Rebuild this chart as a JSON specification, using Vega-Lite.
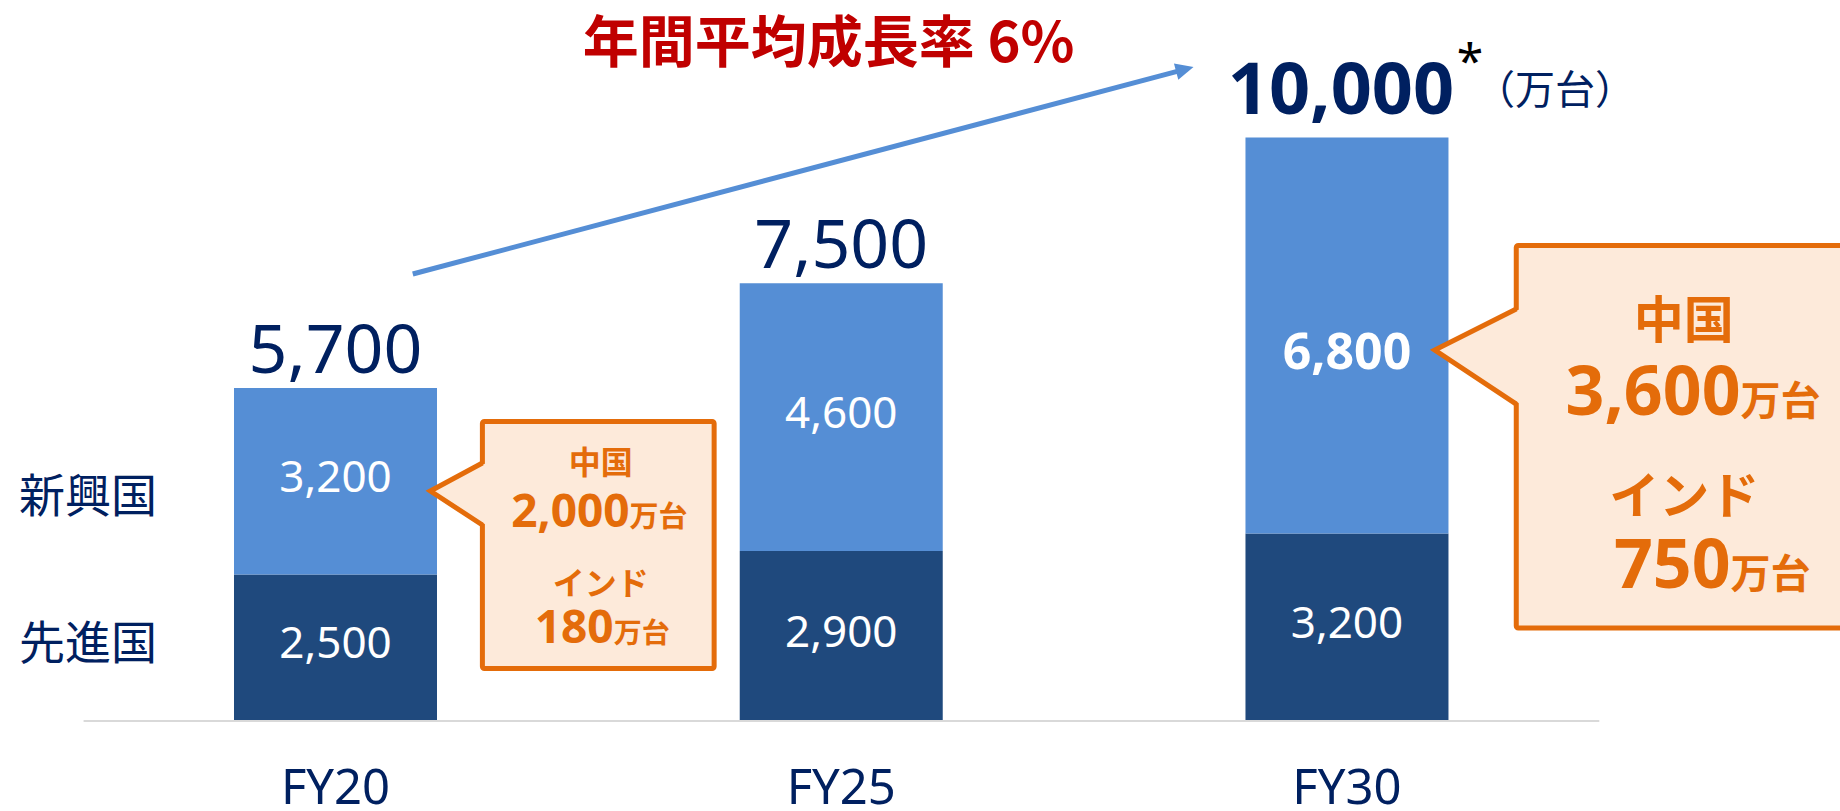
{
  "$schema": "https://vega.github.io/schema/vega-lite/v6.json",
  "width": 1840,
  "height": 811,
  "autosize": {"type": "none"},
  "padding": 0,
  "background": "white",
  "config": {"view": {"stroke": null}},
  "datasets": {
    "bars": [
      {"year": 20, "fy": "FY20", "region": "先進国", "rank": 1, "value": 2500},
      {"year": 20, "fy": "FY20", "region": "新興国", "rank": 2, "value": 3200},
      {"year": 25, "fy": "FY25", "region": "先進国", "rank": 1, "value": 2900},
      {"year": 25, "fy": "FY25", "region": "新興国", "rank": 2, "value": 4600},
      {"year": 30, "fy": "FY30", "region": "先進国", "rank": 1, "value": 3200},
      {"year": 30, "fy": "FY30", "region": "新興国", "rank": 2, "value": 6800}
    ],
    "totals": [
      {"year": 20, "fy": "FY20", "total": 5700},
      {"year": 25, "fy": "FY25", "total": 7500},
      {"year": 30, "fy": "FY30", "total": 10000}
    ],
    "one": [{}]
  },
  "layer": [
    {
      "data": {"name": "one"},
      "mark": {"type": "rule", "color": "#D9D9D9", "strokeWidth": 2},
      "encoding": {
        "x": {"datum": 17.5093, "type": "quantitative", "scale": {"domain": [16.7325, 34.8249], "nice": false, "zero": false}, "axis": null},
        "x2": {"datum": 32.4945},
        "y": {"datum": -15, "type": "quantitative", "scale": {"domain": [-1562, 12361], "nice": false, "zero": false}, "axis": null}
      }
    },
    {
      "data": {"name": "bars"},
      "mark": {"type": "bar", "width": 203},
      "encoding": {
        "x": {"field": "year", "type": "quantitative", "scale": {"domain": [16.7325, 34.8249], "nice": false, "zero": false}, "axis": null},
        "y": {"field": "value", "type": "quantitative", "stack": "zero", "scale": {"domain": [-1562, 12361], "nice": false, "zero": false}, "axis": null},
        "color": {"field": "region", "type": "nominal", "scale": {"domain": ["先進国", "新興国"], "range": ["#1F497D", "#558ED5"]}, "legend": null},
        "order": {"field": "rank", "type": "quantitative"}
      }
    },
    {
      "data": {"name": "bars"},
      "mark": {"type": "text", "font": "Noto Sans", "fontSize": 44, "color": "white", "align": "center", "baseline": "middle", "dy": -2},
      "encoding": {
        "x": {"field": "year", "type": "quantitative", "scale": {"domain": [16.7325, 34.8249], "nice": false, "zero": false}, "axis": null},
        "y": {"field": "value", "type": "quantitative", "stack": "zero", "bandPosition": 0.5, "scale": {"domain": [-1562, 12361], "nice": false, "zero": false}, "axis": null},
        "detail": {"field": "region", "type": "nominal"},
        "order": {"field": "rank", "type": "quantitative"},
        "text": {"field": "value", "type": "quantitative", "format": ","},
        "opacity": {"condition": {"test": "datum.year === 30 && datum.region === '新興国'", "value": 0}, "value": 1}
      }
    },
    {
      "data": {"name": "bars"},
      "mark": {"type": "text", "font": "Noto Sans", "fontSize": 50, "fontWeight": "bold", "color": "white", "align": "center", "baseline": "middle", "dy": 18},
      "encoding": {
        "x": {"field": "year", "type": "quantitative", "scale": {"domain": [16.7325, 34.8249], "nice": false, "zero": false}, "axis": null},
        "y": {"field": "value", "type": "quantitative", "stack": "zero", "bandPosition": 0.5, "scale": {"domain": [-1562, 12361], "nice": false, "zero": false}, "axis": null},
        "detail": {"field": "region", "type": "nominal"},
        "order": {"field": "rank", "type": "quantitative"},
        "text": {"field": "value", "type": "quantitative", "format": ","},
        "opacity": {"condition": {"test": "datum.year === 30 && datum.region === '新興国'", "value": 1}, "value": 0}
      }
    },
    {
      "data": {"name": "totals"},
      "transform": [{"filter": "datum.year < 30"}],
      "mark": {"type": "text", "font": "Noto Sans", "fontSize": 68, "color": "#002060", "align": "center", "baseline": "alphabetic", "dy": -15},
      "encoding": {
        "x": {"field": "year", "type": "quantitative", "scale": {"domain": [16.7325, 34.8249], "nice": false, "zero": false}, "axis": null},
        "y": {"field": "total", "type": "quantitative", "scale": {"domain": [-1562, 12361], "nice": false, "zero": false}, "axis": null},
        "text": {"field": "total", "type": "quantitative", "format": ","}
      }
    },
    {
      "data": {"name": "totals"},
      "transform": [{"filter": "datum.year === 30"}],
      "mark": {"type": "text", "font": "Noto Sans", "fontSize": 72, "fontWeight": "bold", "color": "#002060", "align": "center", "baseline": "alphabetic", "dy": -24, "dx": -6},
      "encoding": {
        "x": {"field": "year", "type": "quantitative", "scale": {"domain": [16.7325, 34.8249], "nice": false, "zero": false}, "axis": null},
        "y": {"field": "total", "type": "quantitative", "scale": {"domain": [-1562, 12361], "nice": false, "zero": false}, "axis": null},
        "text": {"field": "total", "type": "quantitative", "format": ","}
      }
    },
    {
      "data": {"name": "totals"},
      "mark": {"type": "text", "font": "Noto Sans", "fontSize": 49, "color": "#002060", "align": "center", "baseline": "alphabetic"},
      "encoding": {
        "x": {"field": "year", "type": "quantitative", "scale": {"domain": [16.7325, 34.8249], "nice": false, "zero": false}, "axis": null},
        "y": {"datum": -1443, "type": "quantitative", "scale": {"domain": [-1562, 12361], "nice": false, "zero": false}, "axis": null},
        "text": {"field": "fy", "type": "nominal"}
      }
    },
    {
      "data": {"name": "one"},
      "mark": {"type": "text", "font": "Noto Sans CJK JP", "fontSize": 46, "color": "#002060", "align": "left", "baseline": "alphabetic", "text": "新興国"},
      "encoding": {
        "x": {"datum": 16.8702, "type": "quantitative", "scale": {"domain": [16.7325, 34.8249], "nice": false, "zero": false}, "axis": null},
        "y": {"datum": 3579, "type": "quantitative", "scale": {"domain": [-1562, 12361], "nice": false, "zero": false}, "axis": null}
      }
    },
    {
      "data": {"name": "one"},
      "mark": {"type": "text", "font": "Noto Sans CJK JP", "fontSize": 46, "color": "#002060", "align": "left", "baseline": "alphabetic", "text": "先進国"},
      "encoding": {
        "x": {"datum": 16.8702, "type": "quantitative", "scale": {"domain": [16.7325, 34.8249], "nice": false, "zero": false}, "axis": null},
        "y": {"datum": 1047, "type": "quantitative", "scale": {"domain": [-1562, 12361], "nice": false, "zero": false}, "axis": null}
      }
    },
    {
      "data": {"name": "one"},
      "mark": {"type": "text", "font": "Noto Sans CJK JP", "fontSize": 56, "fontWeight": "bold", "color": "#C00000", "align": "center", "baseline": "alphabetic", "text": "年間平均成長率 6%"},
      "encoding": {
        "x": {"datum": 24.8742, "type": "quantitative", "scale": {"domain": [16.7325, 34.8249], "nice": false, "zero": false}, "axis": null},
        "y": {"datum": 11296, "type": "quantitative", "scale": {"domain": [-1562, 12361], "nice": false, "zero": false}, "axis": null}
      }
    },
    {
      "data": {"name": "one"},
      "mark": {"type": "text", "font": "Noto Sans", "fontSize": 48, "color": "#000000", "align": "center", "baseline": "alphabetic", "text": "*"},
      "encoding": {
        "x": {"datum": 31.2163, "type": "quantitative", "scale": {"domain": [16.7325, 34.8249], "nice": false, "zero": false}, "axis": null},
        "y": {"datum": 11020, "type": "quantitative", "scale": {"domain": [-1562, 12361], "nice": false, "zero": false}, "axis": null}
      }
    },
    {
      "data": {"name": "one"},
      "mark": {"type": "text", "font": "Noto Sans CJK JP", "fontSize": 40, "color": "#002060", "align": "center", "baseline": "alphabetic", "text": "（万台）"},
      "encoding": {
        "x": {"datum": 32.0573, "type": "quantitative", "scale": {"domain": [16.7325, 34.8249], "nice": false, "zero": false}, "axis": null},
        "y": {"datum": 10575, "type": "quantitative", "scale": {"domain": [-1562, 12361], "nice": false, "zero": false}, "axis": null}
      }
    },
    {
      "data": {"name": "one"},
      "mark": {"type": "rule", "color": "#558ED5", "strokeWidth": 5},
      "encoding": {
        "x": {"datum": 20.764, "type": "quantitative", "scale": {"domain": [16.7325, 34.8249], "nice": false, "zero": false}, "axis": null},
        "x2": {"datum": 28.3403},
        "y": {"datum": 7657, "type": "quantitative", "scale": {"domain": [-1562, 12361], "nice": false, "zero": false}, "axis": null},
        "y2": {"datum": 11145}
      }
    },
    {
      "data": {"name": "one"},
      "mark": {"type": "point", "shape": "M 0 0 L -18 -8.5 L -18 8.5 Z", "size": 4, "filled": true, "opacity": 1, "color": "#558ED5", "angle": -14.77},
      "encoding": {
        "x": {"datum": 28.4829, "type": "quantitative", "scale": {"domain": [16.7325, 34.8249], "nice": false, "zero": false}, "axis": null},
        "y": {"datum": 11210, "type": "quantitative", "scale": {"domain": [-1562, 12361], "nice": false, "zero": false}, "axis": null}
      }
    },
    {
      "data": {"name": "one"},
      "mark": {"type": "rect", "fill": "#FDEADA", "stroke": "#E46C0A", "strokeWidth": 5, "cornerRadius": 2},
      "encoding": {
        "x": {"datum": 21.4523, "type": "quantitative", "scale": {"domain": [16.7325, 34.8249], "nice": false, "zero": false}, "axis": null},
        "x2": {"datum": 23.7434},
        "y": {"datum": 5124, "type": "quantitative", "scale": {"domain": [-1562, 12361], "nice": false, "zero": false}, "axis": null},
        "y2": {"datum": 884}
      }
    },
    {
      "data": {"name": "one"},
      "mark": {"type": "point", "shape": "M 4 -31 L -52 -3 L 4 31 Z", "size": 4, "filled": true, "opacity": 1, "fill": "#FDEADA", "strokeWidth": 0},
      "encoding": {
        "x": {"datum": 21.4523, "type": "quantitative", "scale": {"domain": [16.7325, 34.8249], "nice": false, "zero": false}, "axis": null},
        "y": {"datum": 3880, "type": "quantitative", "scale": {"domain": [-1562, 12361], "nice": false, "zero": false}, "axis": null}
      }
    },
    {
      "data": {"name": "one"},
      "mark": {"type": "point", "shape": "M 0 -31 L -52 -3 L 0 31", "size": 4, "filled": false, "opacity": 1, "stroke": "#E46C0A", "strokeWidth": 5, "strokeJoin": "miter"},
      "encoding": {
        "x": {"datum": 21.4523, "type": "quantitative", "scale": {"domain": [16.7325, 34.8249], "nice": false, "zero": false}, "axis": null},
        "y": {"datum": 3880, "type": "quantitative", "scale": {"domain": [-1562, 12361], "nice": false, "zero": false}, "axis": null}
      }
    },
    {
      "data": {"name": "one"},
      "mark": {"type": "rect", "fill": "#FDEADA", "stroke": "#E46C0A", "strokeWidth": 5, "cornerRadius": 2, "clip": true},
      "encoding": {
        "x": {"datum": 31.6737, "type": "quantitative", "scale": {"domain": [16.7325, 34.8249], "nice": false, "zero": false}, "axis": null},
        "x2": {"datum": 35.3},
        "y": {"datum": 8146, "type": "quantitative", "scale": {"domain": [-1562, 12361], "nice": false, "zero": false}, "axis": null},
        "y2": {"datum": 1579}
      }
    },
    {
      "data": {"name": "one"},
      "mark": {"type": "point", "shape": "M 4 -47.5 L -81.5 -6.5 L 4 47.5 Z", "size": 4, "filled": true, "opacity": 1, "fill": "#FDEADA", "strokeWidth": 0},
      "encoding": {
        "x": {"datum": 31.6737, "type": "quantitative", "scale": {"domain": [16.7325, 34.8249], "nice": false, "zero": false}, "axis": null},
        "y": {"datum": 6240, "type": "quantitative", "scale": {"domain": [-1562, 12361], "nice": false, "zero": false}, "axis": null}
      }
    },
    {
      "data": {"name": "one"},
      "mark": {"type": "point", "shape": "M 0 -47.5 L -81.5 -6.5 L 0 47.5", "size": 4, "filled": false, "opacity": 1, "stroke": "#E46C0A", "strokeWidth": 5, "strokeJoin": "miter"},
      "encoding": {
        "x": {"datum": 31.6737, "type": "quantitative", "scale": {"domain": [16.7325, 34.8249], "nice": false, "zero": false}, "axis": null},
        "y": {"datum": 6240, "type": "quantitative", "scale": {"domain": [-1562, 12361], "nice": false, "zero": false}, "axis": null}
      }
    },
    {
      "data": {"name": "one"},
      "mark": {"type": "text", "font": "Noto Sans CJK JP", "fontSize": 32, "fontWeight": "bold", "color": "#E46C0A", "align": "center", "baseline": "alphabetic", "text": "中国"},
      "encoding": {
        "x": {"datum": 22.6224, "type": "quantitative", "scale": {"domain": [16.7325, 34.8249], "nice": false, "zero": false}, "axis": null},
        "y": {"datum": 4223, "type": "quantitative", "scale": {"domain": [-1562, 12361], "nice": false, "zero": false}, "axis": null}
      }
    },
    {
      "data": {"name": "one"},
      "mark": {"type": "text", "font": "Noto Sans", "fontSize": 46, "fontWeight": "bold", "color": "#E46C0A", "align": "right", "baseline": "alphabetic", "text": "2,000"},
      "encoding": {
        "x": {"datum": 22.9075, "type": "quantitative", "scale": {"domain": [16.7325, 34.8249], "nice": false, "zero": false}, "axis": null},
        "y": {"datum": 3313, "type": "quantitative", "scale": {"domain": [-1562, 12361], "nice": false, "zero": false}, "axis": null}
      }
    },
    {
      "data": {"name": "one"},
      "mark": {"type": "text", "font": "Noto Sans CJK JP", "fontSize": 29, "fontWeight": "bold", "color": "#E46C0A", "align": "left", "baseline": "alphabetic", "text": "万台"},
      "encoding": {
        "x": {"datum": 22.9075, "type": "quantitative", "scale": {"domain": [16.7325, 34.8249], "nice": false, "zero": false}, "axis": null},
        "y": {"datum": 3313, "type": "quantitative", "scale": {"domain": [-1562, 12361], "nice": false, "zero": false}, "axis": null}
      }
    },
    {
      "data": {"name": "one"},
      "mark": {"type": "text", "font": "Noto Sans CJK JP", "fontSize": 32, "fontWeight": "bold", "color": "#E46C0A", "align": "center", "baseline": "alphabetic", "text": "インド"},
      "encoding": {
        "x": {"datum": 22.6224, "type": "quantitative", "scale": {"domain": [16.7325, 34.8249], "nice": false, "zero": false}, "axis": null},
        "y": {"datum": 2146, "type": "quantitative", "scale": {"domain": [-1562, 12361], "nice": false, "zero": false}, "axis": null}
      }
    },
    {
      "data": {"name": "one"},
      "mark": {"type": "text", "font": "Noto Sans", "fontSize": 46, "fontWeight": "bold", "color": "#E46C0A", "align": "right", "baseline": "alphabetic", "text": "180"},
      "encoding": {
        "x": {"datum": 22.7502, "type": "quantitative", "scale": {"domain": [16.7325, 34.8249], "nice": false, "zero": false}, "axis": null},
        "y": {"datum": 1322, "type": "quantitative", "scale": {"domain": [-1562, 12361], "nice": false, "zero": false}, "axis": null}
      }
    },
    {
      "data": {"name": "one"},
      "mark": {"type": "text", "font": "Noto Sans CJK JP", "fontSize": 28, "fontWeight": "bold", "color": "#E46C0A", "align": "left", "baseline": "alphabetic", "text": "万台"},
      "encoding": {
        "x": {"datum": 22.7502, "type": "quantitative", "scale": {"domain": [16.7325, 34.8249], "nice": false, "zero": false}, "axis": null},
        "y": {"datum": 1322, "type": "quantitative", "scale": {"domain": [-1562, 12361], "nice": false, "zero": false}, "axis": null}
      }
    },
    {
      "data": {"name": "one"},
      "mark": {"type": "text", "font": "Noto Sans CJK JP", "fontSize": 50, "fontWeight": "bold", "color": "#E46C0A", "align": "center", "baseline": "alphabetic", "text": "中国"},
      "encoding": {
        "x": {"datum": 33.3307, "type": "quantitative", "scale": {"domain": [16.7325, 34.8249], "nice": false, "zero": false}, "axis": null},
        "y": {"datum": 6560, "type": "quantitative", "scale": {"domain": [-1562, 12361], "nice": false, "zero": false}, "axis": null}
      }
    },
    {
      "data": {"name": "one"},
      "mark": {"type": "text", "font": "Noto Sans", "fontSize": 68, "fontWeight": "bold", "color": "#E46C0A", "align": "right", "baseline": "alphabetic", "text": "3,600"},
      "encoding": {
        "x": {"datum": 33.8912, "type": "quantitative", "scale": {"domain": [16.7325, 34.8249], "nice": false, "zero": false}, "axis": null},
        "y": {"datum": 5236, "type": "quantitative", "scale": {"domain": [-1562, 12361], "nice": false, "zero": false}, "axis": null}
      }
    },
    {
      "data": {"name": "one"},
      "mark": {"type": "text", "font": "Noto Sans CJK JP", "fontSize": 40, "fontWeight": "bold", "color": "#E46C0A", "align": "left", "baseline": "alphabetic", "text": "万台"},
      "encoding": {
        "x": {"datum": 33.8912, "type": "quantitative", "scale": {"domain": [16.7325, 34.8249], "nice": false, "zero": false}, "axis": null},
        "y": {"datum": 5236, "type": "quantitative", "scale": {"domain": [-1562, 12361], "nice": false, "zero": false}, "axis": null}
      }
    },
    {
      "data": {"name": "one"},
      "mark": {"type": "text", "font": "Noto Sans CJK JP", "fontSize": 50, "fontWeight": "bold", "color": "#E46C0A", "align": "center", "baseline": "alphabetic", "text": "インド"},
      "encoding": {
        "x": {"datum": 33.3356, "type": "quantitative", "scale": {"domain": [16.7325, 34.8249], "nice": false, "zero": false}, "axis": null},
        "y": {"datum": 3536, "type": "quantitative", "scale": {"domain": [-1562, 12361], "nice": false, "zero": false}, "axis": null}
      }
    },
    {
      "data": {"name": "one"},
      "mark": {"type": "text", "font": "Noto Sans", "fontSize": 68, "fontWeight": "bold", "color": "#E46C0A", "align": "right", "baseline": "alphabetic", "text": "750"},
      "encoding": {
        "x": {"datum": 33.7929, "type": "quantitative", "scale": {"domain": [16.7325, 34.8249], "nice": false, "zero": false}, "axis": null},
        "y": {"datum": 2266, "type": "quantitative", "scale": {"domain": [-1562, 12361], "nice": false, "zero": false}, "axis": null}
      }
    },
    {
      "data": {"name": "one"},
      "mark": {"type": "text", "font": "Noto Sans CJK JP", "fontSize": 40, "fontWeight": "bold", "color": "#E46C0A", "align": "left", "baseline": "alphabetic", "text": "万台"},
      "encoding": {
        "x": {"datum": 33.7929, "type": "quantitative", "scale": {"domain": [16.7325, 34.8249], "nice": false, "zero": false}, "axis": null},
        "y": {"datum": 2266, "type": "quantitative", "scale": {"domain": [-1562, 12361], "nice": false, "zero": false}, "axis": null}
      }
    }
  ]
}
